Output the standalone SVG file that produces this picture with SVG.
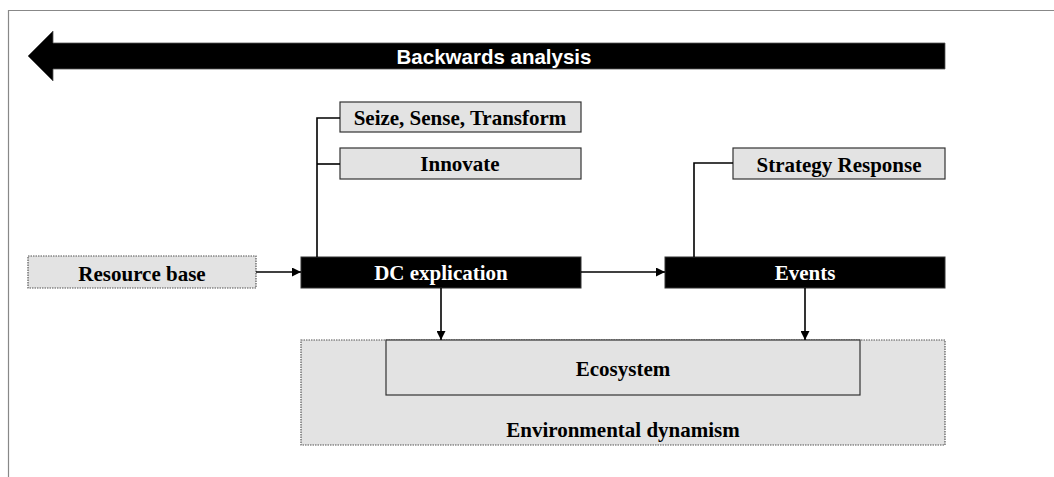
<svg xmlns="http://www.w3.org/2000/svg" width="1054" height="477" viewBox="0 0 1054 477">
  <defs>
    <style>
      .lbl { font-family: "Liberation Serif", "Times New Roman", serif; font-weight: bold; font-size: 21px; text-anchor: middle; }
      .dark { fill: #000; stroke: #333; stroke-width: 1; }
      .light { fill: #e3e3e3; stroke: #333; stroke-width: 1.2; }
      .dotted { fill: #e3e3e3; stroke: #555; stroke-width: 1.2; stroke-dasharray: 1.5 1; }
      .wire { fill: none; stroke: #000; stroke-width: 1.6; }
    </style>
    <marker id="head" viewBox="0 0 10 10" refX="10" refY="5" markerWidth="9" markerHeight="9" markerUnits="userSpaceOnUse" orient="auto">
      <path d="M0,0 L10,5 L0,10 Z" fill="#000"/>
    </marker>
  </defs>

  <rect width="1054" height="477" fill="#fff"/>
  <!-- frame -->
  <path d="M8.5,477 V10.5 H1054" fill="none" stroke="#888" stroke-width="1.2"/>

  <!-- backwards analysis arrow -->
  <g id="backwards">
    <path d="M28,56 L53,31 L53,43 L945,43 L945,69 L53,69 L53,81 Z" fill="#000" stroke="#555" stroke-width="0.8"/>
    <text x="494" y="64" fill="#fff" font-family="Liberation Sans, Arial, sans-serif" font-weight="bold" font-size="20.5" text-anchor="middle">Backwards analysis</text>
  </g>

  <g id="seize">
    <rect class="light" x="340" y="102" width="241" height="30"/>
    <text class="lbl" x="460" y="125">Seize, Sense, Transform</text>
  </g>
  <g id="innovate">
    <rect class="light" x="340" y="148" width="241" height="31"/>
    <text class="lbl" x="460" y="171">Innovate</text>
  </g>
  <g id="strategy">
    <rect class="light" x="733" y="148" width="212" height="31"/>
    <text class="lbl" x="839" y="172">Strategy Response</text>
  </g>

  <g id="resource">
    <rect class="dotted" x="28" y="256" width="228" height="32"/>
    <text class="lbl" x="142" y="281">Resource base</text>
  </g>
  <g id="dc">
    <rect class="dark" x="301" y="257" width="280" height="31"/>
    <text class="lbl" x="441" y="280" fill="#fff">DC explication</text>
  </g>
  <g id="events">
    <rect class="dark" x="665" y="257" width="280" height="31"/>
    <text class="lbl" x="805" y="280" fill="#fff">Events</text>
  </g>

  <g id="environment">
    <rect class="dotted" x="301" y="340" width="644" height="105"/>
    <text class="lbl" x="623" y="437">Environmental dynamism</text>
  </g>
  <g id="ecosystem">
    <rect x="386" y="340" width="474" height="55" fill="#e3e3e3" stroke="#333" stroke-width="1.2"/>
    <text class="lbl" x="623" y="376">Ecosystem</text>
  </g>

  <g id="connectors">
    <path class="wire" d="M340,118 H317 V257"/>
    <path class="wire" d="M340,164 H317"/>
    <path class="wire" d="M733,163 H694 V257"/>
    <path class="wire" d="M256,272 H301" marker-end="url(#head)"/>
    <path class="wire" d="M581,272 H665" marker-end="url(#head)"/>
    <path class="wire" d="M441,288 V340" marker-end="url(#head)"/>
    <path class="wire" d="M805,288 V340" marker-end="url(#head)"/>
  </g>
</svg>
